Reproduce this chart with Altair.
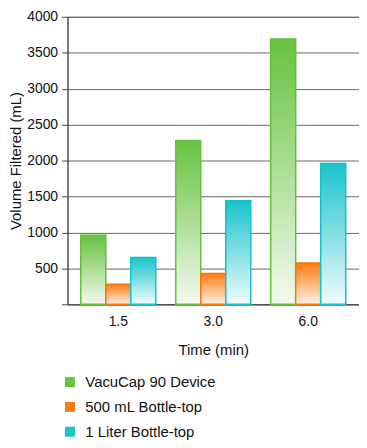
import altair as alt
import pandas as pd

times = ["1.5", "3.0", "6.0"]
series = ["VacuCap 90 Device", "500 mL Bottle-top", "1 Liter Bottle-top"]
vacucap = [960, 2280, 3690]
bottle500 = [280, 430, 575]
liter1 = [650, 1440, 1960]

solid = ["#66c23f", "#ff7a12", "#19c3cc"]
strokes = ["#62c03a", "#f7750c", "#14c0cb"]
bottoms = ["#f4faf0", "#fff2e6", "#f0fbfc"]

rows = []
for s, vals in zip(series, [vacucap, bottle500, liter1]):
    for t, v in zip(times, vals):
        rows.append({"time": t, "series": s, "value": v})
df = pd.DataFrame(rows)

FONT = "Liberation Sans"

x_enc = alt.X("time:N", sort=times,
              scale=alt.Scale(paddingInner=0.21, paddingOuter=0.14),
              axis=alt.Axis(title="Time (min)", labelAngle=0, ticks=False,
                            labelPadding=10, titlePadding=15, grid=False))
xo_enc = alt.XOffset("series:N", sort=series,
                     scale=alt.Scale(domain=series, paddingInner=0, paddingOuter=0))
y_enc = alt.Y("value:Q",
              scale=alt.Scale(domain=[0, 4000], nice=False),
              axis=alt.Axis(title="Volume Filtered (mL)", values=list(range(0, 4001, 500)),
                            format="d", labelExpr="datum.value == 0 ? '' : datum.label",
                            tickSize=6, labelPadding=4, titlePadding=3))

base = alt.Chart(df).mark_bar(strokeWidth=0).encode(
    x=x_enc, xOffset=xo_enc, y=y_enc,
    color=alt.Color("series:N", sort=series,
                    scale=alt.Scale(domain=series, range=solid),
                    legend=alt.Legend(title=None, orient="none", legendX=-5, legendY=361,
                                      symbolType="square", symbolSize=100,
                                      symbolStrokeWidth=0, labelFontSize=15,
                                      labelOffset=8, rowPadding=9, padding=0,
                                      labelColor="#111", labelFont=FONT)),
)

layers = [base]
for s, c, st, b in zip(series, solid, strokes, bottoms):
    grad = alt.Gradient(gradient="linear",
                        stops=[alt.GradientStop(color=c, offset=0),
                               alt.GradientStop(color=b, offset=1)],
                        x1=0, x2=0, y1=0, y2=1)
    layers.append(
        alt.Chart(df).transform_filter(alt.datum.series == s)
        .mark_bar(fill=grad, stroke=st, strokeWidth=1.5)
        .encode(x=x_enc, xOffset=xo_enc, y=y_enc)
    )

chart = alt.layer(*layers).properties(
    width=294, height=290,
    autosize=alt.AutoSizeParams(type="none"),
    padding={"left": 60, "top": 7, "right": 0, "bottom": 135},
).configure_view(
    stroke="#666", strokeWidth=1
).configure_axis(
    labelFont=FONT, titleFont=FONT, labelFontSize=14, titleFontSize=15,
    labelColor="#111", titleColor="#111", titleFontWeight="normal",
    gridColor="#666", gridWidth=1, domainColor="#444", tickColor="#444",
    domainWidth=1
).configure_axisY(grid=True)

chart.save("out.html", embed_options={"renderer": "svg", "actions": False})
